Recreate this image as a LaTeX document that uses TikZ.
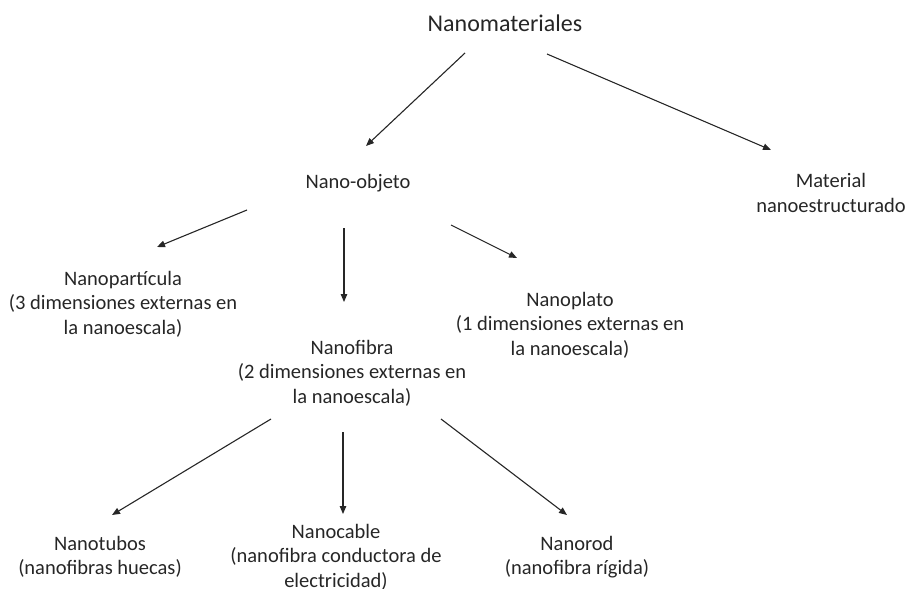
\documentclass[tikz,border=0pt]{standalone}
\usepackage{fontspec}
\setmainfont{Carlito}
\usetikzlibrary{arrows.meta}
\definecolor{ink}{HTML}{262626}
\tikzset{
  lbl/.style={align=center, inner sep=0pt, text=ink, font=\fontsize{20.5}{24.5}\selectfont},
  ttl/.style={align=center, inner sep=0pt, text=ink, font=\fontsize{24}{28}\selectfont},
  conn/.style={draw=ink, line width=1.1pt, -{Triangle[length=8pt,width=6.5pt]}}
}
\begin{document}
\begin{tikzpicture}[x=1pt,y=-1pt]
\useasboundingbox (0,0) rectangle (908,589);
\node[ttl] (top) at (505,23) {Nanomateriales};
\node[lbl] (obj) at (358,183) {Nano-objeto};
\node[lbl] (mat) at (831,193) {Material\\nanoestructurado};
\node[lbl] (part) at (123,304) {Nanopartícula\\(3 dimensiones externas en\\la nanoescala)};
\node[lbl] (fib) at (352,373) {Nanofibra\\(2 dimensiones externas en\\la nanoescala)};
\node[lbl] (plato) at (570,325) {Nanoplato\\(1 dimensiones externas en\\la nanoescala)};
\node[lbl] (tubos) at (100,557) {Nanotubos\\(nanofibras huecas)};
\node[lbl] (cable) at (336,557) {Nanocable\\(nanofibra conductora de\\electricidad)};
\node[lbl] (rod) at (577,557) {Nanorod\\(nanofibra rígida)};
\coordinate (s1) at (465,53);  \coordinate (e1) at (366,146);
\coordinate (s2) at (547,54);  \coordinate (e2) at (771,150);
\coordinate (s3) at (247,210); \coordinate (e3) at (157,247);
\coordinate (s4) at (344,228); \coordinate (e4) at (344,302);
\coordinate (s5) at (451,225); \coordinate (e5) at (517,258);
\coordinate (s6) at (271,419); \coordinate (e6) at (112,515);
\coordinate (s7) at (343,432); \coordinate (e7) at (343,514);
\coordinate (s8) at (441,419); \coordinate (e8) at (567,515);
\draw[conn] (s1) -- (e1);
\draw[conn] (s2) -- (e2);
\draw[conn] (s3) -- (e3);
\draw[conn] (s4) -- (e4);
\draw[conn] (s5) -- (e5);
\draw[conn] (s6) -- (e6);
\draw[conn] (s7) -- (e7);
\draw[conn] (s8) -- (e8);
\end{tikzpicture}
\end{document}
